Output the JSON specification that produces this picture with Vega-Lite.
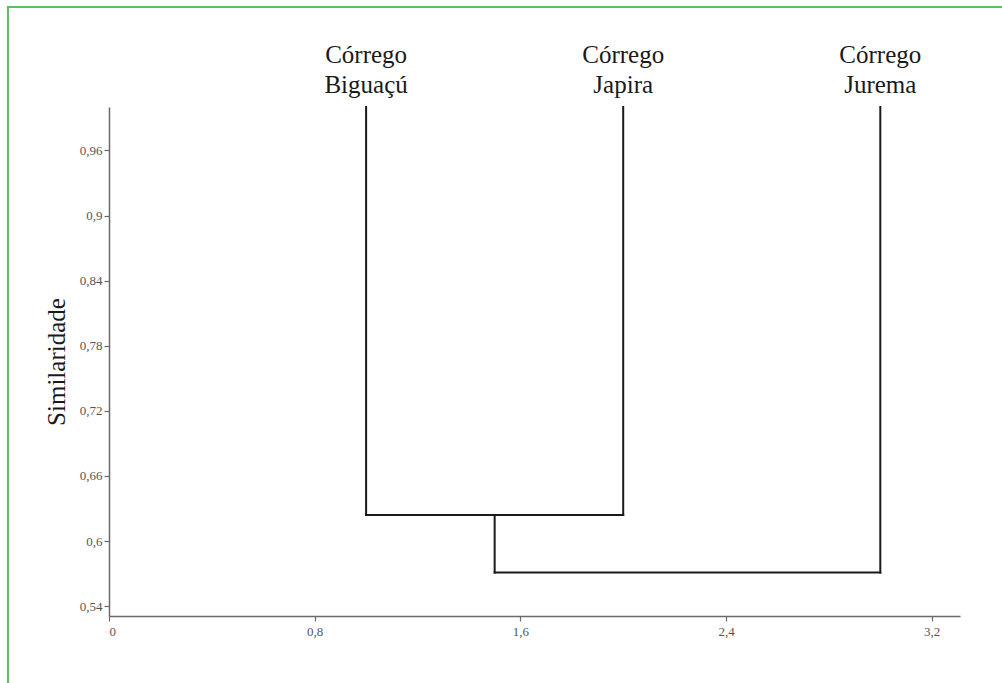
{
  "$schema": "https://vega.github.io/schema/vega-lite/v6.json",
  "width": 851,
  "height": 509,
  "autosize": {"type": "none"},
  "padding": {"left": 109, "top": 107, "right": 42, "bottom": 67},
  "background": "white",
  "config": {"view": {"stroke": null}},
  "datasets": {
    "segments": [
      {"x": 1, "x2": 1, "y": 1.0, "y2": 0.624},
      {"x": 2, "x2": 2, "y": 1.0, "y2": 0.624},
      {"x": 1, "x2": 2, "y": 0.624, "y2": 0.624},
      {"x": 1.5, "x2": 1.5, "y": 0.624, "y2": 0.571},
      {"x": 3, "x2": 3, "y": 1.0, "y2": 0.571},
      {"x": 1.5, "x2": 3, "y": 0.571, "y2": 0.571}
    ],
    "leaves": [
      {"name": "Córrego Biguaçú", "line1": "Córrego", "line2": "Biguaçú", "x": 1, "sim": 1.0},
      {"name": "Córrego Japira", "line1": "Córrego", "line2": "Japira", "x": 2, "sim": 1.0},
      {"name": "Córrego Jurema", "line1": "Córrego", "line2": "Jurema", "x": 3, "sim": 1.0}
    ]
  },
  "layer": [
    {
      "data": {"values": [{}]},
      "mark": {"type": "rect", "fill": null, "stroke": "#5cbf68", "strokeWidth": 2, "clip": false},
      "encoding": {
        "x": {"datum": -0.393, "type": "quantitative", "scale": {"domain": [0, 3.31], "nice": false, "zero": false}},
        "x2": {"datum": 3.8},
        "y": {"datum": 1.0921, "type": "quantitative", "scale": {"domain": [0.531, 1.0], "nice": false, "zero": false}},
        "y2": {"datum": 0.3}
      }
    },
    {
      "data": {"name": "segments"},
      "mark": {"type": "rule", "color": "#1a1a1a", "strokeWidth": 2, "strokeCap": "square"},
      "encoding": {
        "x": {
          "field": "x", "type": "quantitative",
          "scale": {"domain": [0, 3.31], "nice": false, "zero": false},
          "axis": {
            "values": [0, 0.8, 1.6, 2.4, 3.2],
            "title": null,
            "grid": false,
            "domainColor": "#6a6a6a", "domainWidth": 1.5,
            "tickColor": "#6a6a6a", "tickSize": 5, "tickWidth": 1.2,
            "labelFont": "Liberation Serif", "labelFontSize": 13, "labelColor": "#555555",
            "labelPadding": 4,
            "labelExpr": "replace(format(datum.value, '.2~f'), '.', ',')"
          }
        },
        "x2": {"field": "x2"},
        "y": {
          "field": "y", "type": "quantitative",
          "scale": {"domain": [0.531, 1.0], "nice": false, "zero": false},
          "axis": {
            "values": [0.54, 0.6, 0.66, 0.72, 0.78, 0.84, 0.9, 0.96],
            "title": "Similaridade",
            "titleFont": "Liberation Serif", "titleFontSize": 25, "titleFontWeight": "normal", "titleColor": "#1a1a1a",
            "titleX": -45, "titleBaseline": "alphabetic",
            "grid": false,
            "domainColor": "#6a6a6a", "domainWidth": 1.5,
            "tickColor": "#6a6a6a", "tickSize": 5, "tickWidth": 1.2,
            "labelFont": "Liberation Serif", "labelFontSize": 13, "labelColor": "#555555",
            "labelPadding": 2,
            "labelExpr": "replace(format(datum.value, '.2~f'), '.', ',')"
          }
        },
        "y2": {"field": "y2"}
      }
    },
    {
      "data": {"name": "leaves"},
      "mark": {"type": "text", "font": "Liberation Serif", "fontSize": 25, "color": "#1a1a1a", "align": "center", "baseline": "alphabetic", "dy": -44, "clip": false},
      "encoding": {
        "x": {"field": "x", "type": "quantitative"},
        "y": {"field": "sim", "type": "quantitative"},
        "text": {"field": "line1"}
      }
    },
    {
      "data": {"name": "leaves"},
      "mark": {"type": "text", "font": "Liberation Serif", "fontSize": 25, "color": "#1a1a1a", "align": "center", "baseline": "alphabetic", "dy": -14, "clip": false},
      "encoding": {
        "x": {"field": "x", "type": "quantitative"},
        "y": {"field": "sim", "type": "quantitative"},
        "text": {"field": "line2"}
      }
    }
  ]
}
